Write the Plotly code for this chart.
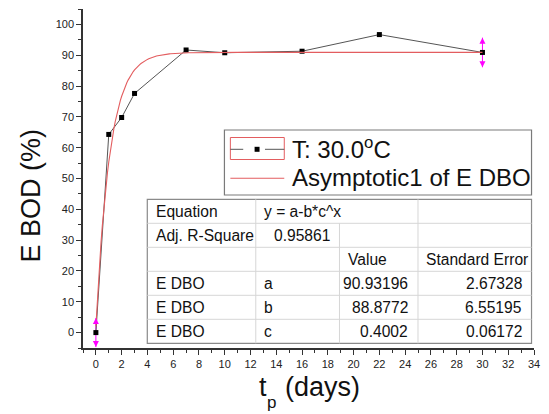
import numpy as np
import plotly.graph_objects as go

# Measured BOD exertion at 30 °C
t_days = [0, 1, 2, 3, 7, 10, 16, 22, 30]
bod_pct = [0.0, 64.3, 69.8, 77.6, 91.7, 90.8, 91.3, 96.7, 90.9]
bod_err = [4.7, None, None, None, None, None, None, None, 4.8]

# Asymptotic1 fit  y = a - b*c^x
param_names = ["a", "b", "c"]
param_values = [90.93196, 88.8772, 0.4002]
param_errors = [2.67328, 6.55195, 0.06172]
adj_r_square = 0.95861
equation = "y = a-b*c^x"
fit_label = "E DBO"

series_name = "T: 30.0<sup>o</sup>C"
fit_name = "Asymptotic1 of E DBO"

x_ticks = list(range(0, 35, 2))
y_ticks = list(range(0, 101, 10))

W, H = 549, 414
ML, MR, MT, MB = 83, 10, 9, 66
PW, PH = W - ML - MR, H - MT - MB


def px(xp):
    return (xp - ML) / PW


def py(yp):
    return (H - MB - yp) / PH


FONT = "Arial, Liberation Sans, sans-serif"
DATA_LINE = "#555555"
FIT_RED = "#e35d5f"

a, b, c = param_values
t_fit = np.linspace(0, 30, 301)
y_fit = a - b * c ** t_fit

fig = go.Figure()

fig.add_trace(go.Scatter(
    x=t_days, y=bod_pct, mode="lines+markers",
    name=series_name,
    line=dict(color=DATA_LINE, width=1),
    marker=dict(symbol="square", size=5, color="#000000"),
    error_y=dict(type="data", array=[e if e is not None else 0 for e in bod_err],
                 symmetric=True, color="#ff00ff", thickness=1, width=0),
))

fig.add_trace(go.Scatter(
    x=t_fit, y=y_fit, mode="lines",
    name=fit_name,
    line=dict(color=FIT_RED, width=1.1),
))

# arrow heads on the error bars
ex, ey_up, ey_dn = [], [], []
for t, v, e in zip(t_days, bod_pct, bod_err):
    if e is not None:
        ex.append(t)
        ey_up.append(v + e)
        ey_dn.append(v - e)
fig.add_trace(go.Scatter(x=ex, y=ey_up, mode="markers", hoverinfo="skip",
                         marker=dict(symbol="arrow-up", size=6, color="#ff00ff")))
fig.add_trace(go.Scatter(x=ex, y=ey_dn, mode="markers", hoverinfo="skip",
                         marker=dict(symbol="arrow-down", size=6, color="#ff00ff")))

axis_common = dict(
    showline=True, linecolor="#333333", linewidth=1.5, mirror=False,
    showgrid=False, zeroline=False,
    ticks="outside", ticklen=5, tickwidth=1.2, tickcolor="#333333",
    tickfont=dict(family=FONT, size=11, color="#222222"),
)

fig.update_xaxes(range=[-1, 34], tickvals=x_ticks,
                 minor=dict(dtick=1, tick0=0, ticks="outside", ticklen=3,
                            tickwidth=1.2, tickcolor="#333333"),
                 **axis_common)
fig.update_yaxes(range=[-5, 105], tickvals=y_ticks,
                 minor=dict(dtick=5, tick0=0, ticks="outside", ticklen=3,
                            tickwidth=1.2, tickcolor="#333333"),
                 **axis_common)

shapes = []
annotations = []


def line_px(x0, y0, x1, y1, color, width=1):
    shapes.append(dict(type="line", xref="paper", yref="paper",
                       x0=px(x0), x1=px(x1), y0=py(y0), y1=py(y1),
                       line=dict(color=color, width=width), layer="above"))


RIGHT = 536.5

# legend box
shapes.append(dict(type="rect", xref="paper", yref="paper",
                   x0=px(226), x1=px(RIGHT), y0=py(195), y1=py(130),
                   fillcolor="white", line=dict(color="#7a7a7a", width=1.2), layer="above"))
shapes.append(dict(type="rect", xref="paper", yref="paper",
                   x0=px(232), x1=px(286.5), y0=py(159.5), y1=py(137.5),
                   line=dict(color=FIT_RED, width=1), layer="above"))
line_px(232, 149.3, 245, 149.3, DATA_LINE)
line_px(267, 149.3, 286.5, 149.3, DATA_LINE)
shapes.append(dict(type="rect", xref="paper", yref="paper",
                   x0=px(256.5), x1=px(261.5), y0=py(151.8), y1=py(146.8),
                   fillcolor="#000000", line=dict(width=0), layer="above"))
line_px(232, 178.3, 286.5, 178.3, FIT_RED, 1.1)

LFONT = dict(family=FONT, size=24, color="#111111")
annotations.append(dict(text=series_name, x=px(292), y=py(148), xref="paper", yref="paper",
                        xanchor="left", yanchor="middle", showarrow=False, font=LFONT))
annotations.append(dict(text=fit_name, x=px(292), y=py(177.5), xref="paper", yref="paper",
                        xanchor="left", yanchor="middle", showarrow=False, font=LFONT))

# parameter table
col_x = [148, 257.7, 342.3, 421.7, RIGHT]
row_y = [199.3 + 24 * i for i in range(7)]
shapes.append(dict(type="rect", xref="paper", yref="paper",
                   x0=px(col_x[0]), x1=px(col_x[-1]), y0=py(row_y[-1]), y1=py(row_y[0]),
                   fillcolor="white", line=dict(color="#8a8a8a", width=1.2), layer="above"))
for yv in row_y[1:-1]:
    line_px(col_x[0], yv, col_x[-1], yv, "#d6d6d6")
for i, xv in enumerate(col_x[1:-1]):
    top = row_y[1] if i == 1 else row_y[0]
    line_px(xv, top, xv, row_y[-1], "#d6d6d6")

TFONT = dict(family=FONT, size=15.6, color="#111111")


def cell(text, col, row, align="left"):
    yc = (row_y[row] + row_y[row + 1]) / 2
    if align == "left":
        xa, anchor = col_x[col] + 6.3, "left"
    else:
        xa, anchor = col_x[col + 1] - 8, "right"
    annotations.append(dict(text=text, x=px(xa), y=py(yc), xref="paper", yref="paper",
                            xanchor=anchor, yanchor="middle", showarrow=False, font=TFONT))


cell("Equation", 0, 0)
cell(equation, 1, 0)
cell("Adj. R-Square", 0, 1)
cell(str(adj_r_square), 1, 1, "right")
cell("Value", 2, 2)
cell("Standard Error", 3, 2)
for i, (n, v, e) in enumerate(zip(param_names, param_values, param_errors)):
    cell(fit_label, 0, 3 + i)
    cell(n, 1, 3 + i)
    cell(str(v), 2, 3 + i, "right")
    cell(str(e), 3, 3 + i, "right")

# axis titles
TITLE = dict(family=FONT, size=27, color="#111111")
annotations.append(dict(text="E BOD (%)", textangle=-90, x=px(30), y=py(196),
                        xref="paper", yref="paper", xanchor="center", yanchor="middle",
                        showarrow=False, font=TITLE))
annotations.append(dict(text="t", x=px(271), y=py(387), xref="paper", yref="paper",
                        xanchor="right", yanchor="middle", showarrow=False, font=TITLE))
annotations.append(dict(text="p", x=px(267), y=py(402), xref="paper", yref="paper",
                        xanchor="left", yanchor="middle", showarrow=False,
                        font=dict(family=FONT, size=17, color="#111111")))
annotations.append(dict(text="(days)", x=px(285), y=py(387), xref="paper", yref="paper",
                        xanchor="left", yanchor="middle", showarrow=False, font=TITLE))

fig.update_layout(
    width=W, height=H,
    margin=dict(l=ML, r=MR, t=MT, b=MB),
    paper_bgcolor="white", plot_bgcolor="white",
    showlegend=False,
    shapes=shapes,
    annotations=annotations,
)

fig.write_html("out.html")
